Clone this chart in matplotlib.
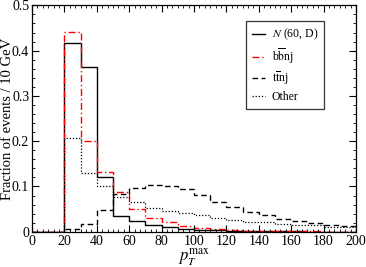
import numpy as np
import matplotlib
matplotlib.use('Agg')
import matplotlib.pyplot as plt
from matplotlib.ticker import MultipleLocator, AutoMinorLocator

plt.rcParams['font.family'] = ['Liberation Serif', 'DejaVu Serif']
plt.rcParams['mathtext.fontset'] = 'stix'

# 10 GeV bins from 0 to 200
edges = np.arange(0, 201, 10)

n60d = [0, 0, 0.416, 0.364, 0.121, 0.035, 0.024, 0.014, 0.010, 0.006,
        0.004, 0.003, 0.002, 0.002, 0.001, 0.001, 0.001, 0.0005, 0.0005, 0.0005]
bbnj = [0, 0, 0.441, 0.200, 0.132, 0.088, 0.050, 0.031, 0.022, 0.013,
        0.008, 0.005, 0.003, 0.002, 0.002, 0.001, 0.001, 0.001, 0.0005, 0.0005]
ttnj = [0, 0, 0.005, 0.018, 0.049, 0.084, 0.097, 0.104, 0.102, 0.095,
        0.081, 0.066, 0.055, 0.044, 0.037, 0.028, 0.024, 0.019, 0.015, 0.013]
other = [0, 0, 0.207, 0.129, 0.101, 0.077, 0.066, 0.052, 0.046, 0.041,
         0.037, 0.031, 0.026, 0.022, 0.021, 0.017, 0.015, 0.015, 0.011, 0.010]

labels = [r'$N$ (60, D)', r'b$\overline{\mathrm{b}}$nj', r't$\overline{\mathrm{t}}$nj', 'Other']

fig = plt.figure(figsize=(3.66, 2.67), dpi=100)
ax = fig.add_axes([0.0874, 0.132, 0.8853, 0.848])

ax.stairs(n60d, edges, color='black', lw=1.0, label=labels[0])
ax.stairs(bbnj, edges, color='red', lw=1.0, linestyle=(0, (5, 2, 1, 2)), label=labels[1])
ax.stairs(ttnj, edges, color='black', lw=1.0, linestyle=(0, (4, 2.5)), label=labels[2])
ax.stairs(other, edges, color='black', lw=0.9, linestyle=(0, (1, 1.5)), label=labels[3])

ax.set_xlim(0, 200)
ax.set_ylim(0, 0.5)
ax.xaxis.set_major_locator(MultipleLocator(20))
ax.xaxis.set_minor_locator(AutoMinorLocator(6))
ax.yaxis.set_major_locator(MultipleLocator(0.1))
ax.yaxis.set_minor_locator(AutoMinorLocator(5))
ax.set_yticks([0, 0.1, 0.2, 0.3, 0.4, 0.5])
ax.set_yticklabels(['0', '0.1', '0.2', '0.3', '0.4', '0.5'])
ax.tick_params(which='both', direction='in', top=True, right=True, labelsize=10, pad=2)
ax.tick_params(which='major', length=5, width=0.8)
ax.tick_params(which='minor', length=2.5, width=0.6)
for s in ax.spines.values():
    s.set_linewidth(0.9)

ax.set_ylabel('Fraction of events / 10 GeV', fontsize=10.5)
ax.yaxis.set_label_coords(-0.057, 0.5)
ax.set_xlabel(r'$p_T^{\mathrm{max}}$', fontsize=12)
ax.xaxis.set_label_coords(0.5, -0.065)
ax.xaxis.label.set_verticalalignment('top')

leg = ax.legend(loc='upper left', bbox_to_anchor=(0.66, 0.93), fontsize=8.5,
                frameon=True, fancybox=False, edgecolor='black', handlelength=1.1,
                handletextpad=0.6, borderpad=0.5, labelspacing=0.3, borderaxespad=0)
leg.get_frame().set_linewidth(0.9)

fig.savefig('out.png', dpi=100)
